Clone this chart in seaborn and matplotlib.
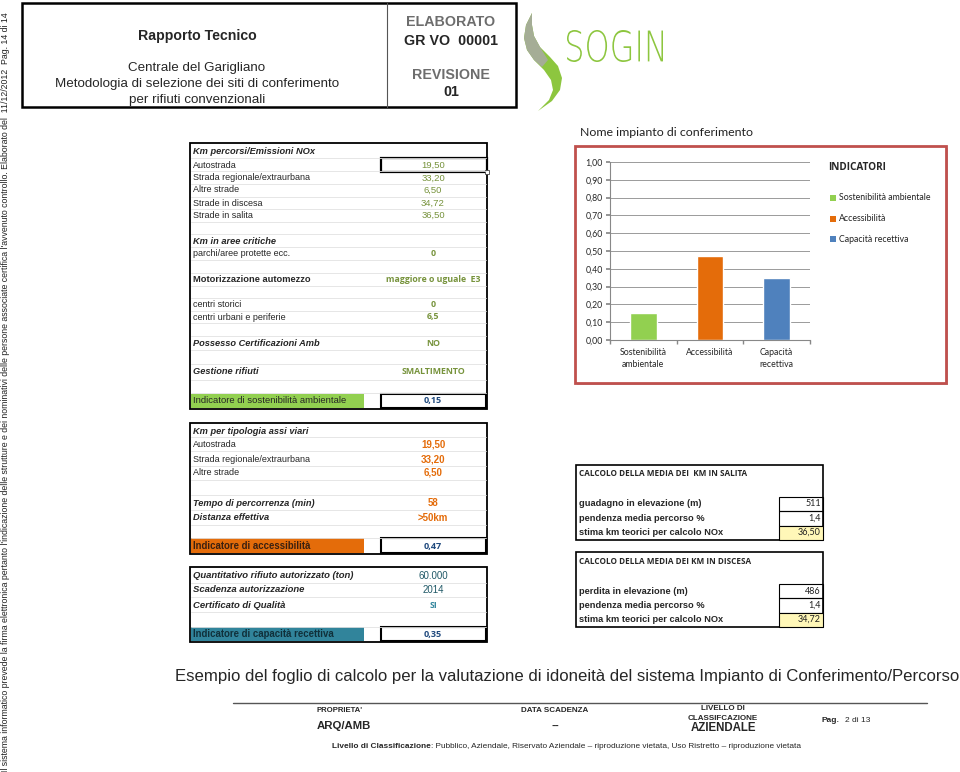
import matplotlib
matplotlib.use("Agg")
import matplotlib.pyplot as plt
import seaborn as sns
import pandas as pd
from matplotlib.patches import Rectangle, Polygon, PathPatch
from matplotlib.lines import Line2D
from matplotlib.transforms import Affine2D
from matplotlib.textpath import TextPath
from matplotlib.font_manager import FontProperties

# ---------------- data ----------------
categories = ["Sostenibilità ambientale", "Accessibilità", "Capacità recettiva"]
tick_labels = ["Sostenibilità\nambientale", "Accessibilità", "Capacità\nrecettiva"]
values = [0.15, 0.47, 0.35]
bar_colors = ["#92d050", "#e46c0a", "#4f81bd"]
legend_title = "INDICATORI"
chart_title = "Nome impianto di conferimento"

t1_labels = ["Km percorsi/Emissioni NOx", "Autostrada", "Strada regionale/extraurbana",
             "Altre strade", "Strade in discesa", "Strade in salita", "Km in aree critiche",
             "parchi/aree protette ecc.", "Motorizzazione automezzo", "centri storici",
             "centri urbani e periferie", "Possesso Certificazioni Amb", "Gestione rifiuti"]
t1_values = ["", "19,50", "33,20", "6,50", "34,72", "36,50", "", "0",
             "maggiore o uguale  E3", "0", "6,5", "NO", "SMALTIMENTO"]
t1_indicator = "Indicatore di sostenibilità ambientale"
t1_ind_value = "0,15"

t2_labels = ["Km per tipologia assi viari", "Autostrada", "Strada regionale/extraurbana",
             "Altre strade", "Tempo di percorrenza (min)", "Distanza effettiva"]
t2_values = ["", "19,50", "33,20", "6,50", "58", ">50km"]
t2_indicator = "Indicatore di accessibilità"
t2_ind_value = "0,47"

t3_labels = ["Quantitativo rifiuto autorizzato (ton)", "Scadenza autorizzazione", "Certificato di Qualità"]
t3_values = ["60.000", "2014", "SI"]
t3_indicator = "Indicatore di capacità recettiva"
t3_ind_value = "0,35"

ta_title = "CALCOLO DELLA MEDIA DEI  KM IN SALITA"
ta_labels = ["guadagno in elevazione (m)", "pendenza media percorso %", "stima km teorici per calcolo NOx"]
ta_values = ["511", "1,4", "36,50"]
tb_title = "CALCOLO DELLA MEDIA DEI KM IN DISCESA"
tb_labels = ["perdita in elevazione (m)", "pendenza media percorso %", "stima km teorici per calcolo NOx"]
tb_values = ["486", "1,4", "34,72"]

caption = ("Esempio del foglio di calcolo per la valutazione di idoneità del sistema "
           "Impianto di Conferimento/Percorso")
side_text = ("Il sistema informatico prevede la firma elettronica pertanto l'indicazione delle "
             "strutture e dei nominativi delle persone associate certifica l'avvenuto controllo. "
             "Elaborato del  11/12/2012  Pag. 14 di 14")
footer_bold = "Livello di Classificazione"
footer_rest = (": Pubblico, Aziendale, Riservato Aziendale – riproduzione vietata, "
               "Uso Ristretto – riproduzione vietata")

# ---------------- figure helpers ----------------
sns.set_theme(style="white")
ARIAL = ["Liberation Sans", "DejaVu Sans"]
CAL = ["Lato", "DejaVu Sans"]
CALB = ["Open Sans", "DejaVu Sans"]
plt.rcParams["font.family"] = ARIAL

W, H = 960, 772
fig = plt.figure(figsize=(W / 100, H / 100), dpi=100)
fig.patch.set_facecolor("white")
P = Affine2D().scale(1 / W, -1 / H).translate(0, 1) + fig.transFigure


def T(x, y, s, **kw):
    kw.setdefault("va", "center")
    kw.setdefault("family", ARIAL)
    return fig.text(x / W, 1 - y / H, s, **kw)


def R(x0, y0, x1, y1, **kw):
    kw.setdefault("zorder", 1)
    fig.add_artist(Rectangle((x0, y0), x1 - x0, y1 - y0, transform=P, **kw))


def L(xs, ys, **kw):
    fig.add_artist(Line2D(xs, ys, transform=P, **kw))


# ---------------- header ----------------
R(22, 3, 516, 107, fill=False, ec="black", lw=1.8)
L([387, 387], [3, 107], color="#555555", lw=0.8)
T(197, 36, "Rapporto Tecnico", ha="center", fontsize=10.2, weight="bold")
T(197, 68, "Centrale del Garigliano", ha="center", fontsize=9.6)
T(197, 84, "Metodologia di selezione dei siti di conferimento", ha="center", fontsize=9.6)
T(197, 100, "per rifiuti convenzionali", ha="center", fontsize=9.6)
T(451, 22, "ELABORATO", ha="center", fontsize=10.3, weight="bold", color="#6d6d6d")
T(451, 41, "GR VO  00001", ha="center", fontsize=10.3, weight="bold")
T(451, 75, "REVISIONE", ha="center", fontsize=10.3, weight="bold", color="#6d6d6d")
T(451, 92, "01", ha="center", fontsize=10.3, weight="bold")

# logo swoosh
fig.add_artist(Polygon([(532, 13), (526, 25), (524, 38), (527, 50), (534, 60), (544, 70),
                        (551, 80), (553, 90), (549, 100), (538, 111), (552, 101), (560, 90),
                        (562, 78), (558, 66), (550, 57), (540, 47), (534, 36), (532, 25)],
                       closed=True, transform=P, fc="#8dc63f", ec="none"))
fig.add_artist(Polygon([(532, 13), (526, 25), (524, 38), (527, 50), (534, 60), (542, 67),
                        (548, 60), (540, 47), (534, 36), (532, 25)],
                       closed=True, transform=P, fc="#a5ad96", ec="none"))
tp = TextPath((0, 0), "SOGIN", size=10, prop=FontProperties(family="DejaVu Sans", weight="light"))
bb = tp.get_extents()
sx = 96 / bb.width
sy = 32 / bb.height
tr = Affine2D().translate(-bb.x0, -bb.y0).scale(sx, -sy).translate(567, 62) + P
fig.add_artist(PathPatch(tp, transform=tr, fc="#8dc63f", ec="none"))

# side text
fig.text(6 / W, 0.0, side_text, rotation=90, ha="center", va="bottom", fontsize=6.33,
         family=ARIAL, color="#222222")

# ---------------- left tables ----------------
LX, VX = 193, 433
OLIVE, ORANGE, TEAL, NAVY = "#77933c", "#e46c0a", "#31859c", "#1f497d"
GRID = "#e2e2e2"

# table 1
t1_y = [152, 165, 178, 190, 203, 215, 241, 253, 280, 304, 317, 344, 372]
t1_style = ["bi", "n", "n", "n", "n", "n", "bi", "n", "b", "n", "n", "bi", "bi"]
for yy in [158, 171, 184, 197, 209, 222, 234, 247, 260, 273, 286, 298, 311, 323, 336, 350, 364, 380, 393]:
    L([191, 486], [yy, yy], color=GRID, lw=0.6)
R(190, 143, 487, 409, fill=False, ec="black", lw=1.3)
for lab, val, yy, st in zip(t1_labels, t1_values, t1_y, t1_style):
    T(LX, yy, lab, fontsize=6.5 if st == "n" else 6.7,
      weight="bold" if "b" in st else "normal", style="italic" if "i" in st else "normal")
    if val:
        bold = st != "n" or val in ("0", "6,5")
        T(VX, yy, val, ha="center", fontsize=6.3 if bold else 6.8, color=OLIVE,
          family=CALB if bold else ARIAL, weight="bold" if bold else "normal")
R(381, 158, 487, 172, fill=False, ec="black", lw=1.6)
R(485, 170, 489, 174, fc="white", ec="#444444", lw=0.6)
R(191, 394, 364, 408, fc="#92d050", ec="none")
T(LX, 401, t1_indicator, fontsize=6.8)
R(381, 394, 486, 408, fill=False, ec="black", lw=1.5)
T(VX, 401, t1_ind_value, ha="center", fontsize=6.5, weight="bold", color=NAVY, family=CALB)

# table 2
t2_y = [431, 444, 459, 473, 503, 518]
t2_style = ["bi", "n", "n", "n", "bi", "bi"]
for yy in [437, 451, 466, 480, 495, 510, 525, 538]:
    L([191, 486], [yy, yy], color=GRID, lw=0.6)
R(190, 423, 487, 554, fill=False, ec="black", lw=1.3)
for lab, val, yy, st in zip(t2_labels, t2_values, t2_y, t2_style):
    T(LX, yy, lab, fontsize=6.5 if st == "n" else 6.7,
      weight="bold" if "b" in st else "normal", style="italic" if "i" in st else "normal")
    if val:
        T(VX, yy, val, ha="center", fontsize=7.0, color=ORANGE, weight="bold")
R(191, 538, 364, 553, fc="#e46c0a", ec="none")
T(LX, 546, t2_indicator, fontsize=6.9, weight="bold", color="#3a2010")
R(381, 538, 486, 553, fill=False, ec="black", lw=1.5)
T(VX, 546, t2_ind_value, ha="center", fontsize=6.5, weight="bold", color=NAVY, family=CALB)

# table 3
t3_y = [576, 590, 605]
for yy in [583, 597, 612, 627]:
    L([191, 486], [yy, yy], color=GRID, lw=0.6)
R(190, 567, 487, 642, fill=False, ec="black", lw=1.3)
for lab, val, yy in zip(t3_labels, t3_values, t3_y):
    T(LX, yy, lab, fontsize=6.8, weight="bold", style="italic")
    T(VX, yy, val, ha="center", fontsize=7.0 if val != "SI" else 6.3,
      color="#215967" if val != "SI" else TEAL,
      family=ARIAL if val != "SI" else CALB, weight="normal" if val != "SI" else "bold")
R(191, 627, 364, 641, fc="#31849b", ec="none")
T(LX, 634, t3_indicator, fontsize=6.9, weight="bold", color="#10303a")
R(381, 627, 486, 641, fill=False, ec="black", lw=1.5)
T(VX, 634, t3_ind_value, ha="center", fontsize=6.5, weight="bold", color=NAVY, family=CALB)

# ---------------- right tables ----------------
def small_table(top, title, labels, vals):
    R(576, top, 823, top + 75, fill=False, ec="black", lw=1.2)
    T(579, top + 9, title, fontsize=5.9, weight="bold", family=CALB)
    for i, (lab, val) in enumerate(zip(labels, vals)):
        y0 = top + 32 + i * 14.3
        yc = y0 + 7
        if i == 2:
            R(779, y0, 823, y0 + 14.3, fc="#fff7b8", ec="black", lw=0.8)
        else:
            R(779, y0, 823, y0 + 14.3, fill=False, ec="black", lw=0.8)
        T(579, yc, lab, fontsize=6.7, weight="bold")
        T(821, yc, val, ha="right", fontsize=6.5, family=CAL, color="#222222")


small_table(465, ta_title, ta_labels, ta_values)
small_table(552, tb_title, tb_labels, tb_values)

# ---------------- chart ----------------
T(580, 133, chart_title, fontsize=8.9, family=CAL, color="#222222")
R(577, 148, 948, 385, fc="#bdbdbd", ec="none", zorder=-3)
R(575, 146, 946, 383, fc="white", ec="#c0504d", lw=2.0, zorder=-2)

ax = fig.add_axes([610 / W, 1 - 340 / H, 200 / W, 178 / H])
ax.set_zorder(5)
ax.patch.set_alpha(0)
df = pd.DataFrame({"cat": categories, "val": values})
sns.barplot(data=df, x="cat", y="val", hue="cat", palette=bar_colors, width=0.4,
            legend=False, ax=ax, saturation=1, order=categories, hue_order=categories)
ax.set_ylim(0, 1)
ax.set_xlim(-0.5, 2.5)
yt = [i / 10 for i in range(11)]
ax.set_yticks(yt)
ax.set_yticklabels([f"{v:.2f}".replace(".", ",") for v in yt], family=CAL, fontsize=6.3)
ax.set_xticks(range(3))
ax.set_xticklabels(tick_labels, family=CAL, fontsize=6.3, linespacing=1.4)
ax.set_xticks([-0.5, 0.5, 1.5, 2.5], minor=True)
ax.tick_params(axis="x", which="major", length=0, pad=6)
ax.tick_params(axis="x", which="minor", length=3, color="#888888", direction="out", bottom=True)
ax.tick_params(axis="y", length=3, color="#888888", direction="out", pad=2, left=True)
ax.set_xlabel("")
ax.set_ylabel("")
ax.yaxis.grid(True, color="#9a9a9a", lw=0.7)
ax.set_axisbelow(True)
for s in ["top", "right"]:
    ax.spines[s].set_visible(False)
for s in ["left", "bottom"]:
    ax.spines[s].set_color("#888888")
    ax.spines[s].set_linewidth(0.8)

# legend
T(828, 168, legend_title, fontsize=7.2, weight="bold", family=CALB)
for i, (lab, col) in enumerate(zip(categories, bar_colors)):
    yy = 198 + i * 20.5
    R(830, yy - 3, 836, yy + 3, fc=col, ec="none")
    T(839, yy, lab, fontsize=6.3, family=CAL, color="#222222")

# ---------------- caption & footer ----------------
T(567, 677, caption, ha="center", fontsize=12.1)
L([233, 927], [703, 703], color="#555555", lw=1.0)
T(340, 711, "PROPRIETA'", ha="center", fontsize=5.6, weight="bold")
T(344, 726, "ARQ/AMB", ha="center", fontsize=8.2, weight="bold")
T(555, 711, "DATA SCADENZA", ha="center", fontsize=5.8, weight="bold")
T(555, 726, "--", ha="center", fontsize=8.2, weight="bold")
T(723, 709, "LIVELLO DI", ha="center", fontsize=5.8, weight="bold")
T(723, 718, "CLASSIFCAZIONE", ha="center", fontsize=5.8, weight="bold")
T(723, 728, "AZIENDALE", ha="center", fontsize=8.3, weight="bold")
T(822, 721, "Pag.", fontsize=6.0, weight="bold")
T(845, 721, "2 di 13", fontsize=6.0)
tb = T(332, 746, footer_bold, fontsize=5.97, weight="bold")
renderer = fig.canvas.get_renderer()
ext = tb.get_window_extent(renderer=renderer)
fig.text(ext.x1 / fig.bbox.width, 1 - 746 / H, footer_rest, va="center", fontsize=5.97,
         family=ARIAL)

fig.savefig("out.png", dpi=100, facecolor="white")
